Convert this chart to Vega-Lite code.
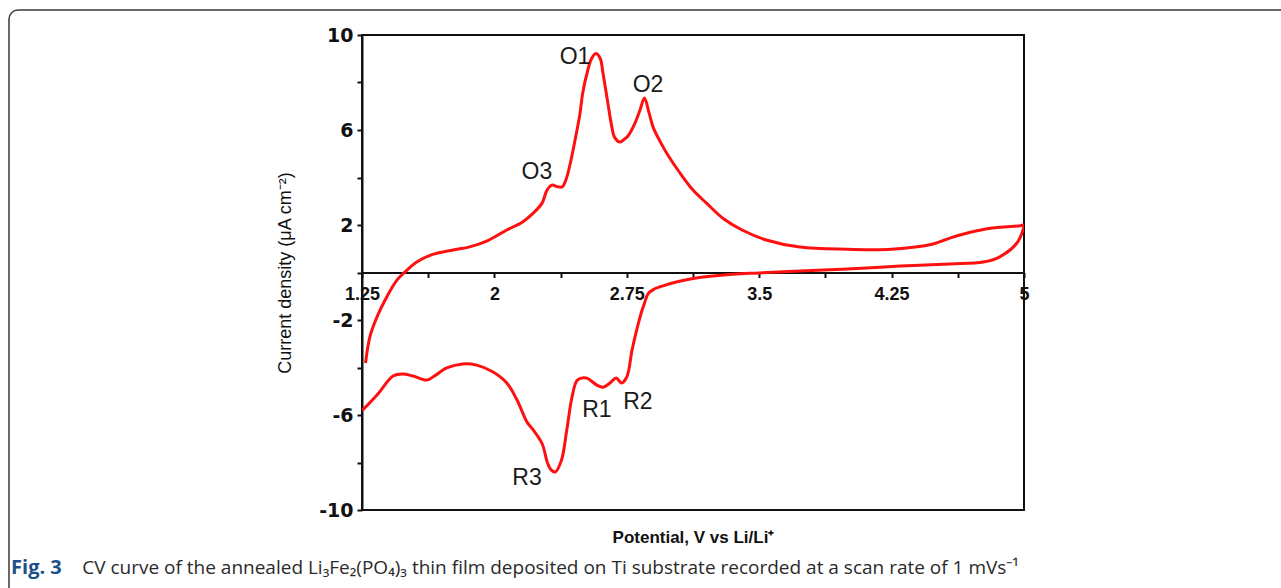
{
  "$schema": "https://vega.github.io/schema/vega-lite/v6.json",
  "autosize": "none",
  "width": 662,
  "height": 475,
  "padding": {"left": 362, "top": 35, "right": 257, "bottom": 78},
  "background": "white",
  "config": {"view": {"stroke": "#111", "strokeWidth": 2}, "font": "Liberation Sans"},
  "resolve": {"axis": {"x": "independent", "y": "independent"}},
  "datasets": {
    "curve": [
      {"i": 1, "x": 1.27, "y": -3.81},
      {"i": 2, "x": 1.295, "y": -2.7},
      {"i": 3, "x": 1.335, "y": -1.87},
      {"i": 4, "x": 1.39, "y": -1.03},
      {"i": 5, "x": 1.45, "y": -0.3},
      {"i": 6, "x": 1.505, "y": 0.1},
      {"i": 7, "x": 1.56, "y": 0.44},
      {"i": 8, "x": 1.65, "y": 0.76},
      {"i": 9, "x": 1.765, "y": 0.95},
      {"i": 10, "x": 1.86, "y": 1.08},
      {"i": 11, "x": 1.96, "y": 1.33},
      {"i": 12, "x": 2.07, "y": 1.79},
      {"i": 13, "x": 2.16, "y": 2.13},
      {"i": 14, "x": 2.22, "y": 2.5},
      {"i": 15, "x": 2.27, "y": 2.92},
      {"i": 16, "x": 2.298, "y": 3.47},
      {"i": 17, "x": 2.326, "y": 3.68},
      {"i": 18, "x": 2.355, "y": 3.62},
      {"i": 19, "x": 2.383, "y": 3.6},
      {"i": 20, "x": 2.405, "y": 3.9},
      {"i": 21, "x": 2.43, "y": 4.6},
      {"i": 22, "x": 2.457, "y": 5.58},
      {"i": 23, "x": 2.485, "y": 6.7},
      {"i": 24, "x": 2.5, "y": 7.55},
      {"i": 25, "x": 2.525, "y": 8.4},
      {"i": 26, "x": 2.55, "y": 9.0},
      {"i": 27, "x": 2.576, "y": 9.22},
      {"i": 28, "x": 2.6, "y": 9.0},
      {"i": 29, "x": 2.615, "y": 8.4},
      {"i": 30, "x": 2.637, "y": 7.4},
      {"i": 31, "x": 2.666, "y": 6.1},
      {"i": 32, "x": 2.68, "y": 5.7},
      {"i": 33, "x": 2.712, "y": 5.49},
      {"i": 34, "x": 2.73, "y": 5.58},
      {"i": 35, "x": 2.757, "y": 5.75},
      {"i": 36, "x": 2.797, "y": 6.3},
      {"i": 37, "x": 2.825, "y": 6.84},
      {"i": 38, "x": 2.85, "y": 7.35},
      {"i": 39, "x": 2.875, "y": 6.75},
      {"i": 40, "x": 2.9, "y": 6.1},
      {"i": 41, "x": 2.94, "y": 5.5},
      {"i": 42, "x": 2.978, "y": 5.0},
      {"i": 43, "x": 3.05, "y": 4.2},
      {"i": 44, "x": 3.125, "y": 3.47},
      {"i": 45, "x": 3.2, "y": 2.93},
      {"i": 46, "x": 3.3, "y": 2.25},
      {"i": 47, "x": 3.4, "y": 1.8},
      {"i": 48, "x": 3.54, "y": 1.37},
      {"i": 49, "x": 3.73, "y": 1.07},
      {"i": 50, "x": 4.0, "y": 0.98},
      {"i": 51, "x": 4.25, "y": 0.98},
      {"i": 52, "x": 4.485, "y": 1.2},
      {"i": 53, "x": 4.58, "y": 1.45},
      {"i": 54, "x": 4.68, "y": 1.66},
      {"i": 55, "x": 4.82, "y": 1.87},
      {"i": 56, "x": 4.98, "y": 1.97},
      {"i": 57, "x": 5.0, "y": 2.0},
      {"i": 58, "x": 4.995, "y": 1.8},
      {"i": 59, "x": 4.96, "y": 1.24},
      {"i": 60, "x": 4.86, "y": 0.65},
      {"i": 61, "x": 4.77, "y": 0.44},
      {"i": 62, "x": 4.58, "y": 0.36},
      {"i": 63, "x": 4.3, "y": 0.27},
      {"i": 64, "x": 4.0, "y": 0.15},
      {"i": 65, "x": 3.73, "y": 0.06},
      {"i": 66, "x": 3.5, "y": -0.02},
      {"i": 67, "x": 3.35, "y": -0.07},
      {"i": 68, "x": 3.125, "y": -0.25},
      {"i": 69, "x": 3.03, "y": -0.4},
      {"i": 70, "x": 2.96, "y": -0.55},
      {"i": 71, "x": 2.9, "y": -0.72},
      {"i": 72, "x": 2.87, "y": -0.9},
      {"i": 73, "x": 2.85, "y": -1.3},
      {"i": 74, "x": 2.836, "y": -1.6},
      {"i": 75, "x": 2.81, "y": -2.3},
      {"i": 76, "x": 2.78, "y": -3.26},
      {"i": 77, "x": 2.75, "y": -4.4},
      {"i": 78, "x": 2.72, "y": -4.65},
      {"i": 79, "x": 2.69, "y": -4.44},
      {"i": 80, "x": 2.655, "y": -4.65},
      {"i": 81, "x": 2.615, "y": -4.83},
      {"i": 82, "x": 2.58, "y": -4.74},
      {"i": 83, "x": 2.52, "y": -4.44},
      {"i": 84, "x": 2.47, "y": -4.53},
      {"i": 85, "x": 2.44, "y": -5.24},
      {"i": 86, "x": 2.41, "y": -6.63},
      {"i": 87, "x": 2.38, "y": -7.9},
      {"i": 88, "x": 2.345, "y": -8.4},
      {"i": 89, "x": 2.32, "y": -8.3},
      {"i": 90, "x": 2.3, "y": -8.0},
      {"i": 91, "x": 2.27, "y": -7.2},
      {"i": 92, "x": 2.22, "y": -6.63},
      {"i": 93, "x": 2.185, "y": -6.3},
      {"i": 94, "x": 2.128, "y": -5.37},
      {"i": 95, "x": 2.07, "y": -4.65},
      {"i": 96, "x": 1.99, "y": -4.18},
      {"i": 97, "x": 1.9, "y": -3.9},
      {"i": 98, "x": 1.82, "y": -3.85},
      {"i": 99, "x": 1.73, "y": -4.02},
      {"i": 100, "x": 1.66, "y": -4.36},
      {"i": 101, "x": 1.618, "y": -4.53},
      {"i": 102, "x": 1.54, "y": -4.36},
      {"i": 103, "x": 1.48, "y": -4.27},
      {"i": 104, "x": 1.426, "y": -4.36},
      {"i": 105, "x": 1.335, "y": -5.16},
      {"i": 106, "x": 1.25, "y": -5.82}
    ],
    "labels": [
      {"x": 2.457, "y": 9.07, "label": "O1"},
      {"x": 2.87, "y": 7.9, "label": "O2"},
      {"x": 2.241, "y": 4.23, "label": "O3"},
      {"x": 2.581, "y": -5.79, "label": "R1"},
      {"x": 2.813, "y": -5.45, "label": "R2"},
      {"x": 2.185, "y": -8.65, "label": "R3"}
    ],
    "frame": [
      {"x": -0.7497, "x2": 6.6, "y": 11.05, "y2": -14.0}
    ],
    "caption": [
      {"x": -0.738, "y": -12.44, "bold": "Fig. 3", "rest": ""},
      {"x": -0.335, "y": -12.44, "bold": "", "rest": "CV curve of the annealed Li₃Fe₂(PO₄)₃ thin film deposited on Ti substrate recorded at a scan rate of 1 mVs⁻¹"}
    ]
  },
  "layer": [
    {
      "data": {"name": "curve"},
      "mark": {"type": "line", "color": "#ff1010", "strokeWidth": 3, "interpolate": "catmull-rom", "clip": true},
      "encoding": {
        "x": {
          "field": "x", "type": "quantitative",
          "scale": {"domain": [1.25, 5], "nice": false, "zero": false},
          "axis": {
            "values": [1.25, 1.625, 2, 2.375, 2.75, 3.125, 3.5, 3.875, 4.25, 4.625, 5],
            "format": ".2~f",
            "labelExpr": "(datum.value - 1.25) % 0.75 == 0 ? datum.label : ''",
            "offset": -237.5,
            "grid": false,
            "domainColor": "#111", "domainWidth": 2,
            "tickColor": "#111", "tickWidth": 2, "tickSize": 5,
            "labelFont": "Liberation Sans", "labelFontWeight": "bold", "labelFontSize": 18, "labelColor": "#111",
            "labelPadding": 8, "labelOverlap": false, "labelFlush": false,
            "title": "Potential, V vs Li/Li⁺",
            "titleFont": "Liberation Sans", "titleFontWeight": "bold", "titleFontSize": 17, "titleColor": "#111",
            "titleY": 264.5, "titleBaseline": "middle"
          }
        },
        "y": {
          "field": "y", "type": "quantitative",
          "scale": {"domain": [-10, 10], "nice": false, "zero": false},
          "axis": {
            "values": [-10, -8, -6, -4, -2, 0, 2, 4, 6, 8, 10],
            "labelExpr": "(datum.value + 10) % 4 == 0 ? '' + datum.value : ''",
            "grid": false,
            "domainColor": "#111", "domainWidth": 2,
            "tickColor": "#111", "tickWidth": 2, "tickSize": 5,
            "labelFont": "DejaVu Sans", "labelFontWeight": "bold", "labelFontSize": 19, "labelColor": "#111",
            "labelPadding": 4, "labelOverlap": false, "labelFlush": false,
            "title": "Current density (μA cm⁻²)",
            "titleFont": "Liberation Sans", "titleFontWeight": "normal", "titleFontSize": 18, "titleColor": "#111",
            "titleX": -77, "titleY": 237.5, "titleAngle": -90, "titleAlign": "center", "titleBaseline": "middle"
          }
        },
        "order": {"field": "i", "type": "quantitative"}
      }
    },
    {
      "data": {"name": "frame"},
      "mark": {"type": "rect", "fill": null, "fillOpacity": 0, "stroke": "#3a3a3a", "strokeWidth": 1.5, "cornerRadius": 9, "clip": false},
      "encoding": {
        "x": {"field": "x", "type": "quantitative", "axis": null},
        "x2": {"field": "x2"},
        "y": {"field": "y", "type": "quantitative", "axis": null},
        "y2": {"field": "y2"}
      }
    },
    {
      "data": {"name": "labels"},
      "mark": {"type": "text", "font": "Liberation Sans", "fontSize": 23, "color": "#1a1a1a", "align": "center", "baseline": "middle"},
      "encoding": {
        "x": {"field": "x", "type": "quantitative", "axis": null},
        "y": {"field": "y", "type": "quantitative", "axis": null},
        "text": {"field": "label"}
      }
    },
    {
      "data": {"name": "caption"},
      "mark": {"type": "text", "font": "Open Sans", "fontSize": 20, "fontWeight": "bold", "color": "#1d4f8a", "align": "left", "baseline": "middle", "clip": false},
      "encoding": {
        "x": {"field": "x", "type": "quantitative", "axis": null},
        "y": {"field": "y", "type": "quantitative", "axis": null},
        "text": {"field": "bold"}
      }
    },
    {
      "data": {"name": "caption"},
      "mark": {"type": "text", "font": "Open Sans", "fontSize": 19, "color": "#2a2a2a", "align": "left", "baseline": "middle", "clip": false},
      "encoding": {
        "x": {"field": "x", "type": "quantitative", "axis": null},
        "y": {"field": "y", "type": "quantitative", "axis": null},
        "text": {"field": "rest"}
      }
    }
  ]
}
